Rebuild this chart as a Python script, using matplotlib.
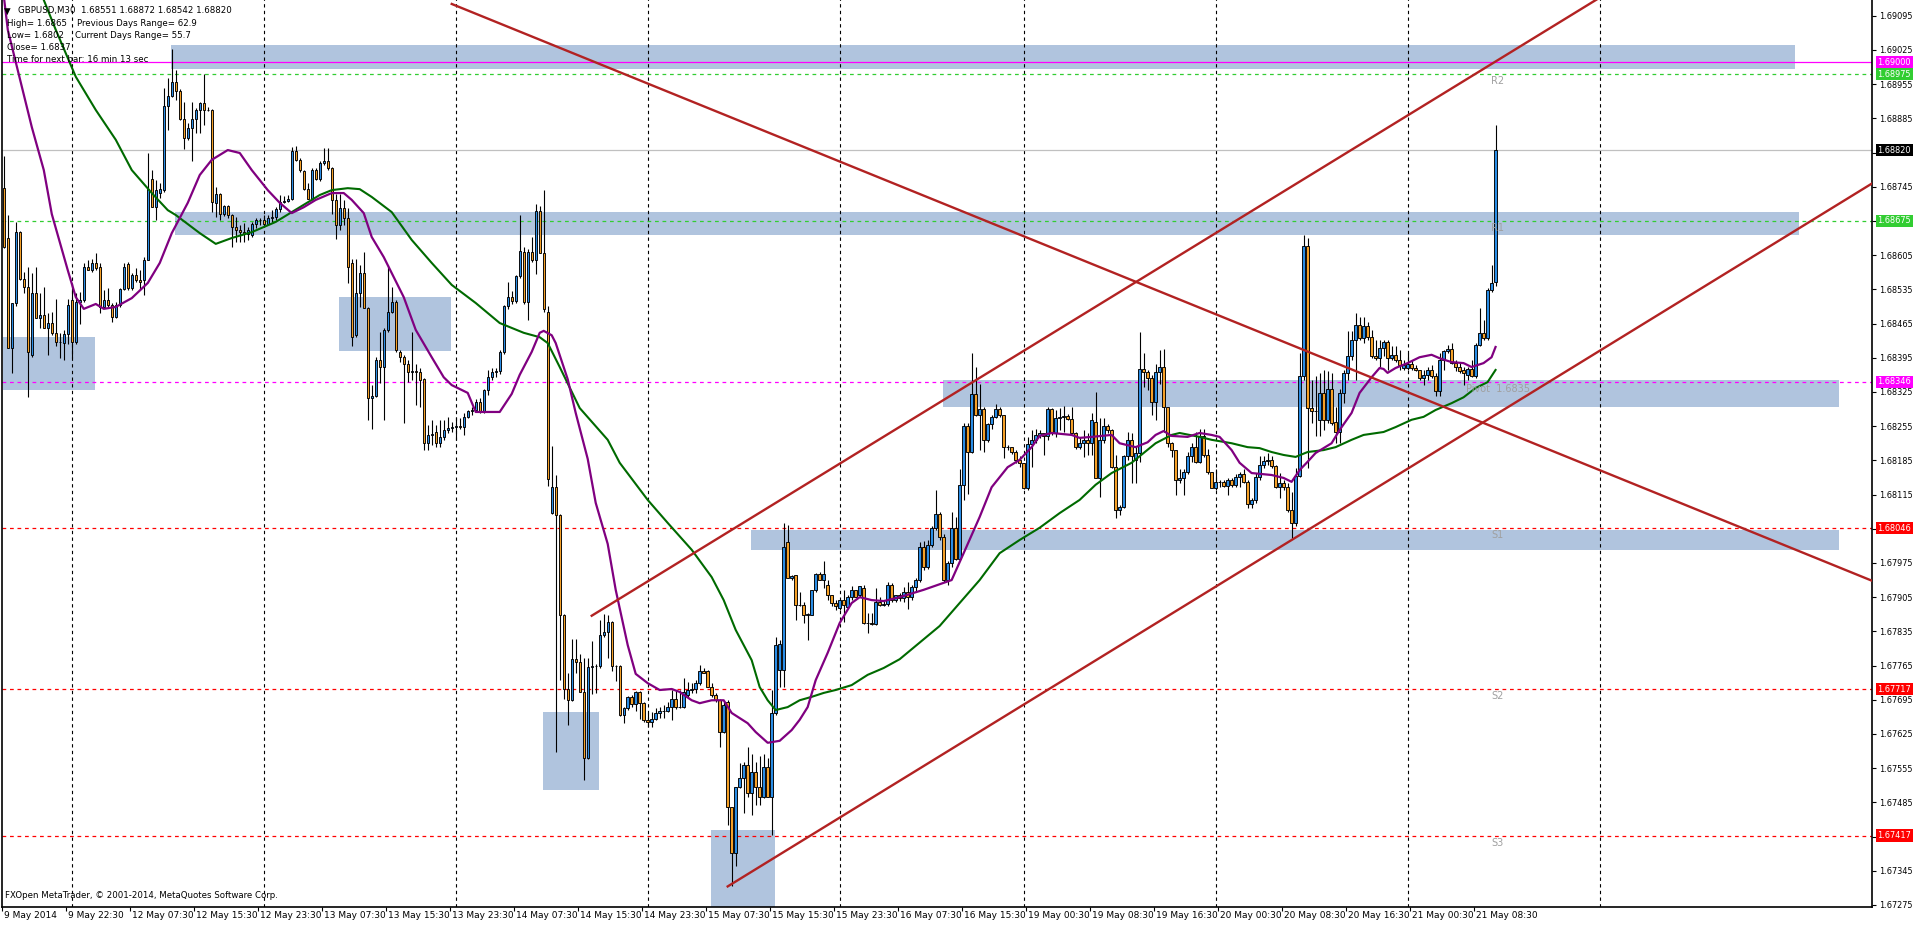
import matplotlib
matplotlib.use("Agg")
import matplotlib.pyplot as plt
from matplotlib.patches import Rectangle
from matplotlib.transforms import blended_transform_factory
import numpy as np

plt.rcParams['font.family'] = ['DejaVu Sans']

W, H = 1916, 926

# ---------------- data: GBPUSD M30, one entry per bar ----------------
opens = [
    1.68742, 1.68640, 1.68414, 1.68506, 1.68653, 1.68557, 1.68540, 1.68401, 1.68527, 1.68476,
    1.68482, 1.68455, 1.68467, 1.68446, 1.68428, 1.68426, 1.68443, 1.68513, 1.68428, 1.68510,
    1.68513, 1.68581, 1.68574, 1.68588, 1.68580, 1.68499, 1.68514, 1.68503, 1.68479, 1.68503,
    1.68535, 1.68586, 1.68537, 1.68564, 1.68554, 1.68554, 1.68596, 1.68760, 1.68704, 1.68733,
    1.68739, 1.68910, 1.68930, 1.68960, 1.68941, 1.68883, 1.68844, 1.68865, 1.68883, 1.68901,
    1.68917, 1.68901, 1.68902, 1.68711, 1.68731, 1.68690, 1.68705, 1.68687, 1.68663, 1.68656,
    1.68652, 1.68648, 1.68646, 1.68669, 1.68676, 1.68676, 1.68669, 1.68680, 1.68684, 1.68699,
    1.68714, 1.68716, 1.68719, 1.68819, 1.68800, 1.68778, 1.68740, 1.68719, 1.68779, 1.68761,
    1.68793, 1.68797, 1.68783, 1.68718, 1.68667, 1.68701, 1.68680, 1.68588, 1.68441, 1.68528,
    1.68568, 1.68496, 1.68312, 1.68317, 1.68390, 1.68377, 1.68452, 1.68489, 1.68510, 1.68407,
    1.68397, 1.68383, 1.68366, 1.68368, 1.68366, 1.68351, 1.68220, 1.68237, 1.68242, 1.68220,
    1.68233, 1.68247, 1.68252, 1.68253, 1.68255, 1.68254, 1.68274, 1.68285, 1.68288, 1.68305,
    1.68285, 1.68329, 1.68356, 1.68366, 1.68367, 1.68407, 1.68501, 1.68520, 1.68512, 1.68563,
    1.68612, 1.68510, 1.68612, 1.68596, 1.68695, 1.68609, 1.68489, 1.68078, 1.68131, 1.68074,
    1.67869, 1.67717, 1.67694, 1.67778, 1.67772, 1.67711, 1.67576, 1.67763, 1.67765, 1.67765,
    1.67827, 1.67833, 1.67855, 1.67764, 1.67764, 1.67664, 1.67678, 1.67700, 1.67686, 1.67710,
    1.67688, 1.67654, 1.67650, 1.67655, 1.67667, 1.67671, 1.67673, 1.67681, 1.67696, 1.67680,
    1.67680, 1.67705, 1.67714, 1.67717, 1.67730, 1.67754, 1.67754, 1.67722, 1.67705, 1.67695,
    1.67630, 1.67691, 1.67476, 1.67381, 1.67517, 1.67534, 1.67562, 1.67504, 1.67548, 1.67517,
    1.67497, 1.67558, 1.67497, 1.67667, 1.67756, 1.67756, 1.68017, 1.67944, 1.67950, 1.67889,
    1.67889, 1.67869, 1.67869, 1.67920, 1.67953, 1.67940, 1.67930, 1.67910, 1.67893, 1.67882,
    1.67899, 1.67885, 1.67906, 1.67920, 1.67910, 1.67923, 1.67852, 1.67853, 1.67850, 1.67896,
    1.67889, 1.67891, 1.67930, 1.67899, 1.67910, 1.67903, 1.67915, 1.67905, 1.67925, 1.67940,
    1.68008, 1.67967, 1.68011, 1.68046, 1.68076, 1.68029, 1.67940, 1.67974, 1.68046, 1.67984,
    1.68134, 1.68255, 1.68203, 1.68320, 1.68278, 1.68291, 1.68226, 1.68259, 1.68274, 1.68291,
    1.68277, 1.68213, 1.68213, 1.68203, 1.68186, 1.68179, 1.68128, 1.68218, 1.68226, 1.68237,
    1.68240, 1.68235, 1.68291, 1.68240, 1.68271, 1.68274, 1.68276, 1.68270, 1.68240, 1.68213,
    1.68220, 1.68226, 1.68220, 1.68264, 1.68148, 1.68226, 1.68255, 1.68247, 1.68172, 1.68083,
    1.68090, 1.68193, 1.68226, 1.68186, 1.68200, 1.68371, 1.68366, 1.68353, 1.68305, 1.68366,
    1.68377, 1.68295, 1.68220, 1.68206, 1.68145, 1.68148, 1.68162, 1.68193, 1.68213, 1.68182,
    1.68235, 1.68196, 1.68162, 1.68128, 1.68141, 1.68141, 1.68132, 1.68145, 1.68134, 1.68150,
    1.68157, 1.68141, 1.68096, 1.68104, 1.68151, 1.68176, 1.68183, 1.68186, 1.68173, 1.68131,
    1.68138, 1.68131, 1.68084, 1.68056, 1.68152, 1.68357, 1.68623, 1.68292, 1.68285, 1.68268,
    1.68323, 1.68268, 1.68330, 1.68263, 1.68244, 1.68323, 1.68364, 1.68398, 1.68432, 1.68462,
    1.68435, 1.68459, 1.68438, 1.68398, 1.68394, 1.68415, 1.68428, 1.68394, 1.68401, 1.68391,
    1.68374, 1.68374, 1.68383, 1.68374, 1.68370, 1.68353, 1.68360, 1.68370, 1.68357, 1.68326,
    1.68391, 1.68408, 1.68413, 1.68385, 1.68377, 1.68370, 1.68360, 1.68372, 1.68357, 1.68421,
    1.68445, 1.68435, 1.68534, 1.68551,
]
highs = [
    1.68808, 1.68687, 1.68506, 1.68673, 1.68655, 1.68571, 1.68581, 1.68568, 1.68581, 1.68527,
    1.68540, 1.68486, 1.68489, 1.68516, 1.68445, 1.68452, 1.68516, 1.68547, 1.68527, 1.68530,
    1.68588, 1.68595, 1.68598, 1.68609, 1.68588, 1.68534, 1.68537, 1.68506, 1.68510, 1.68537,
    1.68588, 1.68591, 1.68568, 1.68578, 1.68574, 1.68602, 1.68813, 1.68779, 1.68759, 1.68752,
    1.68947, 1.68968, 1.69026, 1.68984, 1.68945, 1.68919, 1.68875, 1.68919, 1.68906, 1.68919,
    1.68975, 1.68908, 1.68904, 1.68745, 1.68733, 1.68707, 1.68707, 1.68690, 1.68684, 1.68667,
    1.68670, 1.68663, 1.68673, 1.68680, 1.68680, 1.68687, 1.68687, 1.68697, 1.68703, 1.68728,
    1.68725, 1.68728, 1.68827, 1.68829, 1.68803, 1.68780, 1.68752, 1.68783, 1.68783, 1.68797,
    1.68824, 1.68824, 1.68786, 1.68731, 1.68731, 1.68718, 1.68701, 1.68598, 1.68598, 1.68585,
    1.68612, 1.68499, 1.68339, 1.68397, 1.68448, 1.68455, 1.68585, 1.68540, 1.68513, 1.68411,
    1.68401, 1.68390, 1.68448, 1.68383, 1.68373, 1.68353, 1.68257, 1.68268, 1.68257, 1.68268,
    1.68268, 1.68274, 1.68264, 1.68274, 1.68271, 1.68281, 1.68288, 1.68295, 1.68310, 1.68312,
    1.68332, 1.68370, 1.68373, 1.68373, 1.68410, 1.68502, 1.68549, 1.68532, 1.68565, 1.68687,
    1.68622, 1.68618, 1.68642, 1.68710, 1.68706, 1.68739, 1.68501, 1.68215, 1.68154, 1.68076,
    1.67870, 1.67749, 1.67819, 1.67819, 1.67788, 1.67780, 1.67780, 1.67815, 1.67768, 1.67858,
    1.67870, 1.67869, 1.67857, 1.67766, 1.67766, 1.67681, 1.67702, 1.67704, 1.67712, 1.67712,
    1.67690, 1.67667, 1.67670, 1.67678, 1.67681, 1.67684, 1.67690, 1.67715, 1.67715, 1.67715,
    1.67739, 1.67732, 1.67729, 1.67736, 1.67766, 1.67759, 1.67756, 1.67729, 1.67708, 1.67696,
    1.67691, 1.67695, 1.67476, 1.67517, 1.67565, 1.67568, 1.67599, 1.67585, 1.67568, 1.67579,
    1.67585, 1.67575, 1.67715, 1.67824, 1.67817, 1.68056, 1.68053, 1.67951, 1.67950, 1.67916,
    1.67896, 1.67872, 1.67920, 1.67954, 1.67957, 1.67978, 1.67940, 1.67910, 1.67899, 1.67899,
    1.67920, 1.67910, 1.67928, 1.67920, 1.67927, 1.67930, 1.67872, 1.67872, 1.67923, 1.67906,
    1.67899, 1.67935, 1.67933, 1.67910, 1.67913, 1.67925, 1.67935, 1.67930, 1.67945, 1.68017,
    1.68020, 1.68022, 1.68050, 1.68124, 1.68080, 1.68035, 1.67980, 1.68080, 1.68070, 1.68168,
    1.68261, 1.68261, 1.68404, 1.68377, 1.68342, 1.68295, 1.68262, 1.68278, 1.68301, 1.68295,
    1.68277, 1.68216, 1.68213, 1.68206, 1.68193, 1.68180, 1.68233, 1.68247, 1.68250, 1.68247,
    1.68240, 1.68295, 1.68293, 1.68288, 1.68293, 1.68296, 1.68280, 1.68295, 1.68242, 1.68233,
    1.68247, 1.68240, 1.68281, 1.68325, 1.68271, 1.68271, 1.68260, 1.68250, 1.68196, 1.68093,
    1.68196, 1.68244, 1.68240, 1.68213, 1.68447, 1.68404, 1.68370, 1.68360, 1.68383, 1.68411,
    1.68412, 1.68295, 1.68223, 1.68206, 1.68168, 1.68168, 1.68203, 1.68220, 1.68244, 1.68250,
    1.68250, 1.68209, 1.68162, 1.68168, 1.68145, 1.68145, 1.68148, 1.68148, 1.68158, 1.68162,
    1.68168, 1.68145, 1.68108, 1.68159, 1.68193, 1.68193, 1.68200, 1.68193, 1.68176, 1.68159,
    1.68145, 1.68138, 1.68121, 1.68169, 1.68404, 1.68647, 1.68640, 1.68350, 1.68357, 1.68364,
    1.68370, 1.68367, 1.68364, 1.68295, 1.68330, 1.68370, 1.68449, 1.68449, 1.68486, 1.68479,
    1.68479, 1.68469, 1.68452, 1.68432, 1.68432, 1.68432, 1.68432, 1.68418, 1.68418, 1.68411,
    1.68391, 1.68404, 1.68391, 1.68381, 1.68370, 1.68370, 1.68377, 1.68381, 1.68364, 1.68404,
    1.68411, 1.68421, 1.68425, 1.68391, 1.68384, 1.68377, 1.68377, 1.68391, 1.68425, 1.68496,
    1.68473, 1.68537, 1.68585, 1.68872,
]
lows = [
    1.68620, 1.68414, 1.68363, 1.68500, 1.68554, 1.68527, 1.68315, 1.68397, 1.68476, 1.68455,
    1.68455, 1.68401, 1.68441, 1.68418, 1.68394, 1.68390, 1.68424, 1.68394, 1.68424, 1.68465,
    1.68510, 1.68574, 1.68571, 1.68574, 1.68486, 1.68496, 1.68499, 1.68469, 1.68476, 1.68499,
    1.68534, 1.68534, 1.68534, 1.68551, 1.68534, 1.68523, 1.68595, 1.68704, 1.68677, 1.68721,
    1.68735, 1.68861, 1.68928, 1.68923, 1.68882, 1.68822, 1.68841, 1.68797, 1.68855, 1.68855,
    1.68872, 1.68899, 1.68694, 1.68684, 1.68677, 1.68686, 1.68680, 1.68622, 1.68632, 1.68632,
    1.68632, 1.68636, 1.68643, 1.68660, 1.68667, 1.68663, 1.68667, 1.68673, 1.68677, 1.68694,
    1.68711, 1.68714, 1.68718, 1.68797, 1.68776, 1.68739, 1.68719, 1.68717, 1.68759, 1.68757,
    1.68790, 1.68780, 1.68690, 1.68639, 1.68656, 1.68667, 1.68547, 1.68418, 1.68438, 1.68499,
    1.68496, 1.68268, 1.68250, 1.68315, 1.68343, 1.68268, 1.68448, 1.68486, 1.68407, 1.68387,
    1.68261, 1.68346, 1.68349, 1.68298, 1.68295, 1.68206, 1.68206, 1.68216, 1.68213, 1.68213,
    1.68227, 1.68240, 1.68244, 1.68227, 1.68250, 1.68237, 1.68271, 1.68278, 1.68283, 1.68281,
    1.68281, 1.68319, 1.68349, 1.68356, 1.68362, 1.68403, 1.68494, 1.68505, 1.68508, 1.68559,
    1.68504, 1.68473, 1.68591, 1.68567, 1.68609, 1.68489, 1.68132, 1.68075, 1.67588, 1.67735,
    1.67696, 1.67643, 1.67692, 1.67749, 1.67710, 1.67531, 1.67574, 1.67706, 1.67708, 1.67760,
    1.67823, 1.67780, 1.67753, 1.67733, 1.67661, 1.67648, 1.67675, 1.67680, 1.67672, 1.67655,
    1.67650, 1.67640, 1.67640, 1.67654, 1.67657, 1.67657, 1.67670, 1.67654, 1.67676, 1.67678,
    1.67678, 1.67701, 1.67708, 1.67708, 1.67725, 1.67749, 1.67722, 1.67701, 1.67691, 1.67599,
    1.67627, 1.67439, 1.67313, 1.67354, 1.67514, 1.67463, 1.67497, 1.67459, 1.67480, 1.67480,
    1.67493, 1.67497, 1.67418, 1.67664, 1.67722, 1.67722, 1.67944, 1.67940, 1.67858, 1.67887,
    1.67852, 1.67817, 1.67869, 1.67916, 1.67940, 1.67923, 1.67899, 1.67886, 1.67879, 1.67879,
    1.67855, 1.67882, 1.67899, 1.67906, 1.67906, 1.67850, 1.67831, 1.67848, 1.67848, 1.67886,
    1.67887, 1.67886, 1.67896, 1.67895, 1.67898, 1.67895, 1.67880, 1.67900, 1.67918, 1.67935,
    1.67960, 1.67963, 1.68008, 1.68043, 1.68022, 1.67935, 1.67930, 1.67967, 1.67981, 1.67981,
    1.68104, 1.68117, 1.68200, 1.68275, 1.68206, 1.68203, 1.68223, 1.68250, 1.68271, 1.68274,
    1.68189, 1.68206, 1.68199, 1.68179, 1.68172, 1.68126, 1.68124, 1.68172, 1.68220, 1.68230,
    1.68196, 1.68226, 1.68237, 1.68233, 1.68247, 1.68244, 1.68268, 1.68240, 1.68209, 1.68209,
    1.68192, 1.68196, 1.68196, 1.68148, 1.68110, 1.68220, 1.68240, 1.68169, 1.68066, 1.68073,
    1.68087, 1.68186, 1.68138, 1.68138, 1.68182, 1.68336, 1.68329, 1.68278, 1.68268, 1.68342,
    1.68244, 1.68213, 1.68192, 1.68114, 1.68139, 1.68114, 1.68158, 1.68182, 1.68179, 1.68179,
    1.68192, 1.68158, 1.68128, 1.68124, 1.68131, 1.68130, 1.68114, 1.68131, 1.68131, 1.68131,
    1.68138, 1.68087, 1.68087, 1.68097, 1.68145, 1.68169, 1.68176, 1.68169, 1.68128, 1.68108,
    1.68124, 1.68080, 1.68026, 1.68050, 1.68150, 1.68350, 1.68169, 1.68261, 1.68234, 1.68234,
    1.68247, 1.68261, 1.68258, 1.68220, 1.68220, 1.68302, 1.68350, 1.68391, 1.68350, 1.68432,
    1.68425, 1.68432, 1.68394, 1.68391, 1.68377, 1.68398, 1.68370, 1.68391, 1.68387, 1.68370,
    1.68370, 1.68370, 1.68370, 1.68367, 1.68350, 1.68340, 1.68350, 1.68353, 1.68316, 1.68316,
    1.68370, 1.68404, 1.68383, 1.68367, 1.68364, 1.68340, 1.68350, 1.68355, 1.68353, 1.68418,
    1.68432, 1.68432, 1.68530, 1.68542,
]
closes = [
    1.68622, 1.68414, 1.68506, 1.68653, 1.68557, 1.68540, 1.68407, 1.68527, 1.68476, 1.68482,
    1.68455, 1.68467, 1.68446, 1.68428, 1.68428, 1.68443, 1.68503, 1.68428, 1.68510, 1.68513,
    1.68581, 1.68574, 1.68588, 1.68578, 1.68499, 1.68514, 1.68503, 1.68479, 1.68503, 1.68535,
    1.68581, 1.68537, 1.68564, 1.68554, 1.68551, 1.68596, 1.68740, 1.68704, 1.68738, 1.68740,
    1.68910, 1.68930, 1.68960, 1.68941, 1.68883, 1.68844, 1.68865, 1.68883, 1.68901, 1.68917,
    1.68901, 1.68902, 1.68714, 1.68731, 1.68690, 1.68705, 1.68687, 1.68663, 1.68656, 1.68652,
    1.68648, 1.68656, 1.68669, 1.68676, 1.68677, 1.68669, 1.68680, 1.68684, 1.68699, 1.68714,
    1.68716, 1.68719, 1.68819, 1.68800, 1.68780, 1.68740, 1.68719, 1.68779, 1.68761, 1.68793,
    1.68797, 1.68783, 1.68718, 1.68667, 1.68701, 1.68680, 1.68581, 1.68438, 1.68528, 1.68568,
    1.68496, 1.68312, 1.68317, 1.68390, 1.68377, 1.68452, 1.68489, 1.68510, 1.68411, 1.68397,
    1.68383, 1.68366, 1.68368, 1.68366, 1.68349, 1.68220, 1.68237, 1.68239, 1.68220, 1.68233,
    1.68247, 1.68252, 1.68253, 1.68255, 1.68254, 1.68274, 1.68285, 1.68288, 1.68305, 1.68285,
    1.68329, 1.68356, 1.68366, 1.68367, 1.68407, 1.68501, 1.68520, 1.68512, 1.68562, 1.68613,
    1.68510, 1.68612, 1.68596, 1.68695, 1.68609, 1.68494, 1.68147, 1.68131, 1.68074, 1.67869,
    1.67717, 1.67694, 1.67778, 1.67772, 1.67711, 1.67576, 1.67763, 1.67765, 1.67765, 1.67827,
    1.67833, 1.67855, 1.67764, 1.67764, 1.67664, 1.67678, 1.67700, 1.67686, 1.67710, 1.67688,
    1.67654, 1.67650, 1.67655, 1.67667, 1.67671, 1.67673, 1.67681, 1.67696, 1.67680, 1.67681,
    1.67710, 1.67714, 1.67717, 1.67730, 1.67754, 1.67750, 1.67722, 1.67705, 1.67695, 1.67630,
    1.67684, 1.67476, 1.67381, 1.67517, 1.67534, 1.67562, 1.67504, 1.67548, 1.67517, 1.67497,
    1.67558, 1.67497, 1.67667, 1.67807, 1.67809, 1.68008, 1.67944, 1.67948, 1.67889, 1.67889,
    1.67869, 1.67871, 1.67920, 1.67953, 1.67940, 1.67953, 1.67910, 1.67893, 1.67886, 1.67899,
    1.67889, 1.67906, 1.67920, 1.67906, 1.67927, 1.67852, 1.67853, 1.67850, 1.67896, 1.67889,
    1.67891, 1.67930, 1.67899, 1.67910, 1.67903, 1.67915, 1.67905, 1.67925, 1.67940, 1.68008,
    1.67967, 1.68011, 1.68046, 1.68076, 1.68029, 1.67940, 1.67974, 1.68046, 1.67984, 1.68134,
    1.68255, 1.68203, 1.68320, 1.68278, 1.68291, 1.68226, 1.68259, 1.68274, 1.68291, 1.68277,
    1.68213, 1.68213, 1.68203, 1.68186, 1.68179, 1.68128, 1.68218, 1.68226, 1.68237, 1.68240,
    1.68235, 1.68291, 1.68240, 1.68271, 1.68274, 1.68276, 1.68270, 1.68240, 1.68213, 1.68220,
    1.68226, 1.68220, 1.68267, 1.68148, 1.68226, 1.68255, 1.68247, 1.68172, 1.68083, 1.68090,
    1.68193, 1.68226, 1.68193, 1.68200, 1.68371, 1.68366, 1.68353, 1.68305, 1.68366, 1.68377,
    1.68295, 1.68220, 1.68206, 1.68145, 1.68148, 1.68162, 1.68193, 1.68213, 1.68182, 1.68235,
    1.68196, 1.68162, 1.68128, 1.68141, 1.68141, 1.68132, 1.68145, 1.68134, 1.68150, 1.68157,
    1.68141, 1.68096, 1.68104, 1.68151, 1.68176, 1.68183, 1.68186, 1.68173, 1.68131, 1.68138,
    1.68131, 1.68084, 1.68056, 1.68152, 1.68357, 1.68623, 1.68292, 1.68285, 1.68287, 1.68323,
    1.68268, 1.68330, 1.68261, 1.68244, 1.68323, 1.68364, 1.68398, 1.68432, 1.68462, 1.68435,
    1.68459, 1.68438, 1.68398, 1.68394, 1.68415, 1.68428, 1.68394, 1.68401, 1.68391, 1.68381,
    1.68381, 1.68383, 1.68374, 1.68370, 1.68353, 1.68360, 1.68370, 1.68357, 1.68326, 1.68391,
    1.68408, 1.68413, 1.68385, 1.68377, 1.68367, 1.68363, 1.68372, 1.68357, 1.68421, 1.68445,
    1.68435, 1.68534, 1.68548, 1.68820,
]

# moving averages (bar index, price)
ma_fast_bars = [0, 1, 7, 10, 12, 16, 18, 20, 23, 25, 28, 32, 36, 39, 42, 46, 49, 52, 56, 59,
                62, 66, 69, 72, 75, 78, 82, 85, 87, 90, 92, 95, 97, 100, 103, 107, 110, 112, 116, 118,
                124, 127, 129, 132, 134, 135, 137, 138, 141, 143, 146, 148, 151, 153, 156, 158, 161, 164, 167, 169,
                172, 174, 177, 180, 182, 186, 188, 191, 194, 197, 199, 201, 203, 206, 209, 212, 214, 217, 220, 224,
                230, 237, 240, 244, 247, 251, 254, 257, 259, 262, 267, 269, 272, 277, 279, 283, 286, 288, 290, 292,
                296, 299, 302, 304, 307, 309, 312, 317, 320, 322, 324, 326, 328, 332, 334, 337, 339, 342, 344, 345,
                346, 348, 351, 354, 357, 359, 362, 365, 367, 370, 372, 373]
ma_fast_vals = [1.69135, 1.69066, 1.68867, 1.68779, 1.68689, 1.68574, 1.68519, 1.68495, 1.68505, 1.68495,
                1.68499, 1.68517, 1.68548, 1.68589, 1.68650, 1.68712, 1.68769, 1.68800, 1.68820, 1.68814,
                1.68779, 1.68738, 1.68712, 1.68691, 1.68703, 1.68718, 1.68732, 1.68732, 1.68718, 1.68691,
                1.68642, 1.68601, 1.68568, 1.68519, 1.68452, 1.68396, 1.68355, 1.68339, 1.68323, 1.68284,
                1.68284, 1.68321, 1.68360, 1.68407, 1.68446, 1.68450, 1.68441, 1.68425, 1.68351, 1.68282,
                1.68188, 1.68098, 1.68014, 1.67920, 1.67807, 1.67748, 1.67729, 1.67715, 1.67717, 1.67711,
                1.67694, 1.67688, 1.67694, 1.67694, 1.67668, 1.67647, 1.67629, 1.67607, 1.67611, 1.67633,
                1.67654, 1.67680, 1.67735, 1.67791, 1.67852, 1.67893, 1.67905, 1.67899, 1.67897, 1.67905,
                1.67920, 1.67940, 1.67995, 1.68069, 1.68130, 1.68171, 1.68186, 1.68212, 1.68235, 1.68241,
                1.68237, 1.68231, 1.68233, 1.68237, 1.68220, 1.68212, 1.68222, 1.68237, 1.68245, 1.68235,
                1.68233, 1.68241, 1.68237, 1.68233, 1.68206, 1.68180, 1.68159, 1.68155, 1.68149, 1.68141,
                1.68165, 1.68182, 1.68200, 1.68220, 1.68247, 1.68282, 1.68323, 1.68355, 1.68374, 1.68372,
                1.68364, 1.68374, 1.68384, 1.68396, 1.68401, 1.68394, 1.68386, 1.68384, 1.68376, 1.68384,
                1.68396, 1.68417]
ma_slow_bars = [6, 10, 13, 18, 23, 28, 32, 37, 41, 43, 49, 53, 57, 62, 68, 74, 79, 82, 86, 89,
                92, 97, 102, 107, 112, 118, 124, 130, 134, 136, 139, 144, 151, 154, 161, 166, 172, 177, 180, 183,
                187, 189, 191, 193, 196, 199, 202, 205, 208, 212, 216, 220, 224, 234, 244, 249, 254, 259, 264, 269,
                273, 277, 282, 285, 288, 292, 294, 299, 302, 307, 311, 314, 317, 320, 323, 326, 330, 333, 337, 340,
                345, 348, 352, 355, 358, 362, 365, 368, 371, 373]
ma_slow_vals = [1.69200, 1.69127, 1.69066, 1.68970, 1.68902, 1.68841, 1.68779, 1.68732, 1.68697, 1.68687,
                1.68650, 1.68628, 1.68640, 1.68652, 1.68673, 1.68703, 1.68728, 1.68738, 1.68742, 1.68740,
                1.68724, 1.68693, 1.68636, 1.68589, 1.68544, 1.68507, 1.68466, 1.68446, 1.68437, 1.68425,
                1.68376, 1.68292, 1.68227, 1.68180, 1.68104, 1.68057, 1.68002, 1.67946, 1.67899, 1.67838,
                1.67776, 1.67721, 1.67694, 1.67674, 1.67680, 1.67694, 1.67701, 1.67709, 1.67715, 1.67725,
                1.67746, 1.67760, 1.67778, 1.67846, 1.67940, 1.67995, 1.68022, 1.68047, 1.68077, 1.68104,
                1.68135, 1.68159, 1.68180, 1.68200, 1.68220, 1.68237, 1.68241, 1.68233, 1.68227, 1.68220,
                1.68212, 1.68210, 1.68202, 1.68196, 1.68192, 1.68202, 1.68206, 1.68212, 1.68227, 1.68237,
                1.68243, 1.68253, 1.68268, 1.68274, 1.68288, 1.68302, 1.68314, 1.68333, 1.68345, 1.68370]

# trend lines: (bar0, price0, bar1, price1)
trend_lines = [
    (112, 1.69119, 467, 1.67939),
    (147, 1.67867, 467, 1.69473),
    (181, 1.67313, 467, 1.68751),
]

# zones: (bar_left, bar_right, price_low, price_high)
zones = [
    (-0.1, 22.9, 1.68329, 1.68437),
    (83.9, 111.9, 1.68409, 1.68519),
    (41.9, 447.9, 1.68986, 1.69035),
    (42.9, 448.9, 1.68646, 1.68693),
    (134.9, 148.9, 1.67510, 1.67670),
    (176.9, 192.9, 1.67200, 1.67429),
    (186.9, 458.9, 1.68002, 1.68042),
    (234.9, 458.9, 1.68294, 1.68349),
]

# horizontal levels: (price, colour, linestyle, label box colour)
levels = [
    (1.69000, '#ff00ff', '-', '#ff00ff'),
    (1.68975, '#32cd32', '--', '#32cd32'),
    (1.68820, '#c0c0c0', '-', '#000000'),
    (1.68675, '#32cd32', '--', '#32cd32'),
    (1.68346, '#ff00ff', '--', '#ff00ff'),
    (1.68046, '#ff0000', '--', '#ff0000'),
    (1.67717, '#ff0000', '--', '#ff0000'),
    (1.67417, '#ff0000', '--', '#ff0000'),
]

pivot_names = ['R2', 'R1', 'Pivot  1.6835', 'S1', 'S2', 'S3']
pivot_prices = [1.68975, 1.68675, 1.68346, 1.68046, 1.67717, 1.67417]

price_ticks = [1.69095, 1.69025, 1.68955, 1.68885, 1.68815, 1.68745, 1.68675, 1.68605, 1.68535,
               1.68465, 1.68395, 1.68325, 1.68255, 1.68185, 1.68115, 1.68045, 1.67975, 1.67905,
               1.67835, 1.67765, 1.67695, 1.67625, 1.67555, 1.67485, 1.67415, 1.67345, 1.67275]

time_bars = [0, 16, 32, 48, 64, 80, 96, 112, 128, 144, 160, 176, 192, 208, 224, 240,
             256, 272, 288, 304, 320, 336, 352, 368]
time_labels = ["9 May 2014", "9 May 22:30", "12 May 07:30", "12 May 15:30", "12 May 23:30",
               "13 May 07:30", "13 May 15:30", "13 May 23:30", "14 May 07:30", "14 May 15:30",
               "14 May 23:30", "15 May 07:30", "15 May 15:30", "15 May 23:30", "16 May 07:30",
               "16 May 15:30", "19 May 00:30", "19 May 08:30", "19 May 16:30", "20 May 00:30",
               "20 May 08:30", "20 May 16:30", "21 May 00:30", "21 May 08:30"]

grid_bars = [17, 65, 113, 161, 209, 255, 303, 351, 399]

BULL = '#2a8de6'
BEAR = '#f5a027'
ZONE = '#b0c4de'

# ---------------- figure ----------------
fig = plt.figure(figsize=(W / 100, H / 100), dpi=100)
fig.patch.set_facecolor('white')
ax = fig.add_axes([2 / W, 19 / H, 1870 / W, 907 / H])
ax.set_xlim(-0.375, 467.125)
ax.set_ylim(1.672709, 1.691271)

for b0, b1, lo, hi in zones:
    ax.add_patch(Rectangle((b0, lo), b1 - b0, hi - lo, facecolor=ZONE, edgecolor='none', zorder=1))

ax.vlines(grid_bars, 1.67, 1.70, colors='black', linestyles=(0, (3, 3)), linewidth=0.8, zorder=1.5)

for price, col, ls, _ in levels:
    if ls == '--':
        ax.axhline(price, color=col, linestyle=(0, (3, 3)), linewidth=0.9, zorder=2)
    else:
        ax.axhline(price, color=col, linewidth=0.9, zorder=2)

o = np.array(opens)
h = np.array(highs)
l = np.array(lows)
c = np.array(closes)
x = np.arange(len(c))
up = c >= o
ax.vlines(x, l, h, colors='black', linewidth=0.8, zorder=3)
lo_body = np.minimum(o, c)
body = np.abs(c - o)
ax.bar(x[up], body[up], bottom=lo_body[up], width=0.6, color=BULL,
       edgecolor='black', linewidth=0.65, zorder=4)
ax.bar(x[~up], body[~up], bottom=lo_body[~up], width=0.6, color=BEAR,
       edgecolor='black', linewidth=0.65, zorder=4)

ax.plot(ma_slow_bars, ma_slow_vals, color='#006a00', linewidth=1.5, zorder=5)
ax.plot(ma_fast_bars, ma_fast_vals, color='#800080', linewidth=1.6, zorder=5)

for b0, p0, b1, p1 in trend_lines:
    ax.plot([b0, b1], [p0, p1], color='#b22222', linewidth=1.7, zorder=6)

for name, price in zip(pivot_names, pivot_prices):
    ax.text(373.5, price - 0.00004, name, color='#a0a0a0', fontsize=7,
            ha='center', va='top', zorder=7)

# axes styling
ax.spines['top'].set_visible(False)
for side in ['left', 'right', 'bottom']:
    ax.spines[side].set_color('black')
    ax.spines[side].set_linewidth(1.2)

ax.yaxis.tick_right()
ax.set_yticks(price_ticks)
ax.set_yticklabels([f"{p:.5f}" for p in price_ticks])
ax.tick_params(axis='y', length=3, width=0.8, direction='out', pad=2.2, labelsize=5.9)
ax.set_xticks([b - 0.45 for b in time_bars])
ax.set_xticklabels([])
ax.tick_params(axis='x', length=3, width=0.8, direction='out')

for b, lab in zip(time_bars, time_labels):
    ax.annotate(lab, xy=(b - 0.45, 0), xycoords=('data', 'axes fraction'),
                xytext=(1.5, -3), textcoords='offset points',
                ha='left', va='top', fontsize=6.5, annotation_clip=False)

# right side price boxes
tr = blended_transform_factory(ax.transAxes, ax.transData)
for price, _, _, box in levels:
    ax.text(1.0029, price, f"{price:.5f}", transform=tr, color='white', fontsize=5.9,
            ha='left', va='center', zorder=10, clip_on=False,
            bbox=dict(boxstyle='square,pad=0.2', facecolor=box, edgecolor='none'))

# header info
def ftext(px, py, s, **kw):
    fig.text(px / W, 1 - py / H, s, va='center', ha='left', fontsize=6.2, **kw)

ftext(4, 11, '\u25bc', color='black')
ftext(18, 11, 'GBPUSD,M30  1.68551 1.68872 1.68542 1.68820')
ftext(7, 24, 'High= 1.6865')
ftext(77, 24, 'Previous Days Range= 62.9')
ftext(7, 35, 'Low= 1.6802')
ftext(75, 35, 'Current Days Range= 55.7')
ftext(7, 47, 'Close= 1.6837')
ftext(7, 59, 'Time for next bar: 16 min 13 sec')
ftext(5, 896, 'FXOpen MetaTrader, \u00a9 2001-2014, MetaQuotes Software Corp.')

fig.savefig('out.png', dpi=100, facecolor='white')
